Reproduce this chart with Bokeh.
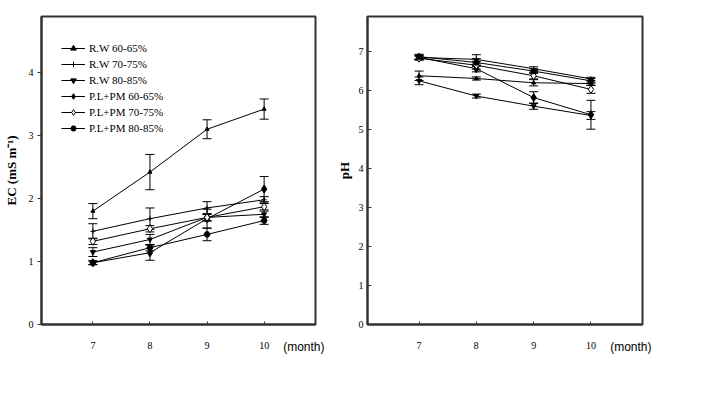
from bokeh.plotting import figure
from bokeh.models import Range1d, FixedTicker, Whisker, TeeHead, ColumnDataSource, Legend, LegendItem, Title
from bokeh.layouts import row
from bokeh.embed import file_html
from bokeh.resources import INLINE

months = [7, 8, 9, 10]
series_names = ["R.W 60-65%", "R.W 70-75%", "R.W 80-85%",
                "P.L+PM 60-65%", "P.L+PM 70-75%", "P.L+PM 80-85%"]

ec_rw60 = [1.80, 2.42, 3.10, 3.42]
ec_rw70 = [1.48, 1.68, 1.85, 1.98]
ec_rw80 = [1.15, 1.35, 1.70, 1.75]
ec_pl60 = [0.98, 1.14, 1.68, 2.15]
ec_pl70 = [1.32, 1.52, 1.70, 1.87]
ec_pl80 = [0.98, 1.22, 1.43, 1.65]
ec_err_rw60 = [0.12, 0.28, 0.15, 0.16]
ec_err_rw70 = [0.12, 0.17, 0.10, 0.05]
ec_err_rw80 = [0.07, 0.08, 0.06, 0.05]
ec_err_pl60 = [0.03, 0.12, 0.15, 0.20]
ec_err_pl70 = [0.05, 0.05, 0.05, 0.05]
ec_err_pl80 = [0.03, 0.05, 0.10, 0.06]

ph_rw60 = [6.38, 6.31, 6.20, 6.18]
ph_rw70 = [6.85, 6.80, 6.56, 6.30]
ph_rw80 = [6.25, 5.86, 5.60, 5.36]
ph_pl60 = [6.85, 6.56, 5.82, 5.38]
ph_pl70 = [6.83, 6.65, 6.38, 6.03]
ph_pl80 = [6.87, 6.72, 6.50, 6.25]
ph_err_rw60 = [0.12, 0.04, 0.08, 0.04]
ph_err_rw70 = [0.06, 0.12, 0.05, 0.04]
ph_err_rw80 = [0.10, 0.05, 0.08, 0.10]
ph_err_pl60 = [0.05, 0.08, 0.15, 0.37]
ph_err_pl70 = [0.05, 0.10, 0.08, 0.10]
ph_err_pl80 = [0.06, 0.10, 0.06, 0.06]

ec_ticks = [0, 1, 2, 3, 4]
ph_ticks = [0, 1, 2, 3, 4, 5, 6, 7]

ec_vals = [ec_rw60, ec_rw70, ec_rw80, ec_pl60, ec_pl70, ec_pl80]
ec_errs = [ec_err_rw60, ec_err_rw70, ec_err_rw80, ec_err_pl60, ec_err_pl70, ec_err_pl80]
ph_vals = [ph_rw60, ph_rw70, ph_rw80, ph_pl60, ph_pl70, ph_pl80]
ph_errs = [ph_err_rw60, ph_err_rw70, ph_err_rw80, ph_err_pl60, ph_err_pl70, ph_err_pl80]

markers = [("triangle", 4, "black"), ("cross", 5, "black"), ("inverted_triangle", 5, "black"),
           ("diamond", 8, "black"), ("diamond", 8, "white"), ("hex", 6, "black")]

SERIF = "Liberation Serif"


def make_fig(vals, errs, ymax, yticks, ylabel, left_border, right_border, width_frame, tick_out, tick_in,
             label_standoff, with_legend):
    p = figure(frame_width=width_frame, frame_height=308, output_backend="svg", toolbar_location=None,
               x_range=Range1d(6.1, 10.9), y_range=Range1d(0, ymax),
               min_border_left=left_border, min_border_right=right_border,
               min_border_top=16, min_border_bottom=55)
    p.grid.visible = False
    p.outline_line_color = "#333333"
    p.outline_line_width = 2
    p.background_fill_color = "white"
    p.border_fill_color = "white"
    for ax in (p.xaxis[0], p.yaxis[0]):
        ax.axis_line_color = "#333333"
        ax.axis_line_width = 2
        ax.minor_tick_line_color = None
        ax.major_label_text_font = SERIF
        ax.major_label_text_font_size = "10px"
        ax.major_label_text_color = "black"
        ax.major_tick_line_color = "#333333"
    p.xaxis.ticker = FixedTicker(ticks=months)
    p.xaxis.major_tick_in = 3
    p.xaxis.major_tick_out = 0
    p.xaxis.major_label_standoff = 17
    p.yaxis.ticker = FixedTicker(ticks=yticks)
    p.yaxis.major_tick_in = tick_in
    p.yaxis.major_tick_out = tick_out
    p.yaxis.major_label_standoff = 4
    p.yaxis.axis_label = ylabel
    p.yaxis.axis_label_text_font = SERIF
    p.yaxis.axis_label_text_font_style = "bold"
    p.yaxis.axis_label_text_font_size = "13px"
    p.yaxis.axis_label_text_color = "black"
    p.yaxis.axis_label_standoff = label_standoff

    items = []
    for name, v, e, (mk, sz, fill) in zip(series_names, vals, errs, markers):
        src = ColumnDataSource(dict(x=months, y=v,
                                    lo=[a - b for a, b in zip(v, e)],
                                    hi=[a + b for a, b in zip(v, e)]))
        w = Whisker(source=src, base="x", lower="lo", upper="hi", line_color="black", line_width=1,
                    upper_head=TeeHead(size=9, line_color="black", line_width=1),
                    lower_head=TeeHead(size=9, line_color="black", line_width=1))
        p.add_layout(w)
        r1 = p.line("x", "y", source=src, line_color="black", line_width=1)
        r2 = p.scatter("x", "y", source=src, marker=mk, size=sz, fill_color=fill, line_color="black",
                       line_width=1)
        items.append(LegendItem(label=name, renderers=[r1, r2]))

    p.add_layout(Title(text="(month)", align="right", vertical_align="top", text_font="Liberation Sans",
                       text_font_size="12px", text_font_style="normal", text_color="black", offset=-9,
                       standoff=-24), "below")

    if with_legend:
        leg = Legend(items=items, location=(20, 189), label_text_font=SERIF, label_text_font_size="11px",
                     label_text_color="black",
                     label_height=14, glyph_height=14, glyph_width=24, spacing=2, padding=4,
                     label_standoff=4, border_line_color=None, background_fill_alpha=0)
        p.add_layout(leg, "center")
    return p


p1 = make_fig(ec_vals, ec_errs, 4.89, ec_ticks, "EC (mS m\u207b\u00b9)", 34, 18, 274, 4, 0, 7, True)
p2 = make_fig(ph_vals, ph_errs, 7.9, ph_ticks, "pH", 33, 66, 275, 0, 4, 4, False)

layout = row(p1, p2)
open("out.html", "w").write(file_html(layout, INLINE))
